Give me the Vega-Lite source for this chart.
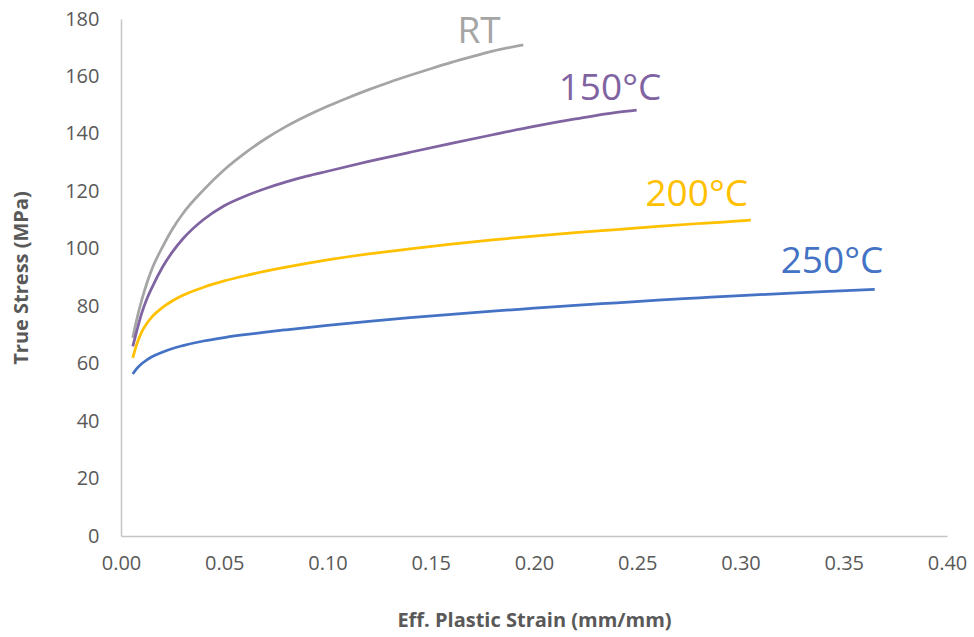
{
  "$schema": "https://vega.github.io/schema/vega-lite/v6.json",
  "width": 826,
  "height": 517,
  "autosize": {"type": "none"},
  "padding": {"left": 121, "top": 19, "right": 27, "bottom": 101},
  "background": "white",
  "config": {
    "view": {"stroke": null},
    "font": "Open Sans"
  },
  "datasets": {
    "curves": [
      {"series": "RT", "strain": 0.0057, "stress": 69},
      {"series": "RT", "strain": 0.0075, "stress": 75},
      {"series": "RT", "strain": 0.01, "stress": 82},
      {"series": "RT", "strain": 0.0125, "stress": 88},
      {"series": "RT", "strain": 0.015, "stress": 93},
      {"series": "RT", "strain": 0.02, "stress": 100.5},
      {"series": "RT", "strain": 0.025, "stress": 107},
      {"series": "RT", "strain": 0.03, "stress": 112.3},
      {"series": "RT", "strain": 0.04, "stress": 120.5},
      {"series": "RT", "strain": 0.05, "stress": 127.5},
      {"series": "RT", "strain": 0.06, "stress": 133.3},
      {"series": "RT", "strain": 0.07, "stress": 138.3},
      {"series": "RT", "strain": 0.08, "stress": 142.6},
      {"series": "RT", "strain": 0.09, "stress": 146.3},
      {"series": "RT", "strain": 0.1, "stress": 149.6},
      {"series": "RT", "strain": 0.11, "stress": 152.6},
      {"series": "RT", "strain": 0.12, "stress": 155.4},
      {"series": "RT", "strain": 0.13, "stress": 158},
      {"series": "RT", "strain": 0.14, "stress": 160.4},
      {"series": "RT", "strain": 0.15, "stress": 162.7},
      {"series": "RT", "strain": 0.16, "stress": 164.9},
      {"series": "RT", "strain": 0.17, "stress": 166.9},
      {"series": "RT", "strain": 0.18, "stress": 168.8},
      {"series": "RT", "strain": 0.1948, "stress": 171},
      {"series": "150°C", "strain": 0.0057, "stress": 66},
      {"series": "150°C", "strain": 0.0075, "stress": 71},
      {"series": "150°C", "strain": 0.01, "stress": 77.5},
      {"series": "150°C", "strain": 0.0125, "stress": 82.5},
      {"series": "150°C", "strain": 0.015, "stress": 86.5},
      {"series": "150°C", "strain": 0.02, "stress": 93.5},
      {"series": "150°C", "strain": 0.025, "stress": 99},
      {"series": "150°C", "strain": 0.03, "stress": 103.5},
      {"series": "150°C", "strain": 0.04, "stress": 110.2},
      {"series": "150°C", "strain": 0.05, "stress": 115},
      {"series": "150°C", "strain": 0.06, "stress": 118.3},
      {"series": "150°C", "strain": 0.07, "stress": 121},
      {"series": "150°C", "strain": 0.08, "stress": 123.3},
      {"series": "150°C", "strain": 0.09, "stress": 125.3},
      {"series": "150°C", "strain": 0.1, "stress": 127},
      {"series": "150°C", "strain": 0.12, "stress": 130.4},
      {"series": "150°C", "strain": 0.14, "stress": 133.6},
      {"series": "150°C", "strain": 0.16, "stress": 136.7},
      {"series": "150°C", "strain": 0.18, "stress": 139.7},
      {"series": "150°C", "strain": 0.2, "stress": 142.6},
      {"series": "150°C", "strain": 0.22, "stress": 145.2},
      {"series": "150°C", "strain": 0.24, "stress": 147.5},
      {"series": "150°C", "strain": 0.2497, "stress": 148.3},
      {"series": "200°C", "strain": 0.0057, "stress": 62},
      {"series": "200°C", "strain": 0.0075, "stress": 66.5},
      {"series": "200°C", "strain": 0.01, "stress": 71},
      {"series": "200°C", "strain": 0.0125, "stress": 74},
      {"series": "200°C", "strain": 0.015, "stress": 76.3},
      {"series": "200°C", "strain": 0.02, "stress": 79.5},
      {"series": "200°C", "strain": 0.025, "stress": 81.9},
      {"series": "200°C", "strain": 0.03, "stress": 83.8},
      {"series": "200°C", "strain": 0.04, "stress": 86.6},
      {"series": "200°C", "strain": 0.05, "stress": 88.8},
      {"series": "200°C", "strain": 0.06, "stress": 90.6},
      {"series": "200°C", "strain": 0.07, "stress": 92.2},
      {"series": "200°C", "strain": 0.08, "stress": 93.6},
      {"series": "200°C", "strain": 0.09, "stress": 94.9},
      {"series": "200°C", "strain": 0.1, "stress": 96.1},
      {"series": "200°C", "strain": 0.12, "stress": 98.2},
      {"series": "200°C", "strain": 0.14, "stress": 100},
      {"series": "200°C", "strain": 0.16, "stress": 101.6},
      {"series": "200°C", "strain": 0.18, "stress": 103.1},
      {"series": "200°C", "strain": 0.2, "stress": 104.4},
      {"series": "200°C", "strain": 0.22, "stress": 105.6},
      {"series": "200°C", "strain": 0.24, "stress": 106.7},
      {"series": "200°C", "strain": 0.26, "stress": 107.8},
      {"series": "200°C", "strain": 0.28, "stress": 108.8},
      {"series": "200°C", "strain": 0.3, "stress": 109.7},
      {"series": "200°C", "strain": 0.305, "stress": 110},
      {"series": "250°C", "strain": 0.0057, "stress": 56.4},
      {"series": "250°C", "strain": 0.0075, "stress": 58.2},
      {"series": "250°C", "strain": 0.01, "stress": 60},
      {"series": "250°C", "strain": 0.0125, "stress": 61.3},
      {"series": "250°C", "strain": 0.015, "stress": 62.4},
      {"series": "250°C", "strain": 0.02, "stress": 64},
      {"series": "250°C", "strain": 0.025, "stress": 65.3},
      {"series": "250°C", "strain": 0.03, "stress": 66.3},
      {"series": "250°C", "strain": 0.04, "stress": 67.9},
      {"series": "250°C", "strain": 0.05, "stress": 69.1},
      {"series": "250°C", "strain": 0.06, "stress": 70.1},
      {"series": "250°C", "strain": 0.07, "stress": 71},
      {"series": "250°C", "strain": 0.08, "stress": 71.8},
      {"series": "250°C", "strain": 0.1, "stress": 73.3},
      {"series": "250°C", "strain": 0.12, "stress": 74.7},
      {"series": "250°C", "strain": 0.14, "stress": 76},
      {"series": "250°C", "strain": 0.16, "stress": 77.2},
      {"series": "250°C", "strain": 0.18, "stress": 78.3},
      {"series": "250°C", "strain": 0.2, "stress": 79.3},
      {"series": "250°C", "strain": 0.22, "stress": 80.3},
      {"series": "250°C", "strain": 0.24, "stress": 81.2},
      {"series": "250°C", "strain": 0.26, "stress": 82.1},
      {"series": "250°C", "strain": 0.28, "stress": 82.9},
      {"series": "250°C", "strain": 0.3, "stress": 83.7},
      {"series": "250°C", "strain": 0.32, "stress": 84.4},
      {"series": "250°C", "strain": 0.34, "stress": 85.1},
      {"series": "250°C", "strain": 0.365, "stress": 85.9}
    ],
    "labels": [
      {"series": "RT", "strain": 0.1734, "stress": 171.6},
      {"series": "150°C", "strain": 0.2368, "stress": 151.8},
      {"series": "200°C", "strain": 0.2788, "stress": 115.0},
      {"series": "250°C", "strain": 0.3443, "stress": 91.5}
    ]
  },
  "layer": [
    {
      "data": {"name": "curves"},
      "mark": {"type": "line", "interpolate": "monotone", "strokeWidth": 2.75},
      "encoding": {
        "x": {
          "field": "strain", "type": "quantitative",
          "scale": {"domain": [0, 0.4], "nice": false},
          "axis": {
            "title": "Eff. Plastic Strain (mm/mm)",
            "values": [0, 0.05, 0.1, 0.15, 0.2, 0.25, 0.3, 0.35, 0.4],
            "format": ".2f",
            "grid": false, "ticks": false, "labelFlush": false, "labelOverlap": false,
            "domainColor": "#C4C4C4", "domainWidth": 1.5,
            "labelColor": "#595959", "labelFontSize": 20, "labelPadding": 17,
            "labelFont": "Open Sans",
            "titleColor": "#595959", "titleFontSize": 20, "titleFontWeight": "bold",
            "titleFont": "Open Sans", "titlePadding": 37
          }
        },
        "y": {
          "field": "stress", "type": "quantitative",
          "scale": {"domain": [0, 180], "nice": false},
          "axis": {
            "title": "True Stress (MPa)",
            "values": [0, 20, 40, 60, 80, 100, 120, 140, 160, 180],
            "grid": false, "ticks": false, "labelFlush": false, "labelOverlap": false,
            "domainColor": "#C4C4C4", "domainWidth": 1.5,
            "labelColor": "#595959", "labelFontSize": 20, "labelPadding": 22,
            "labelFont": "Open Sans",
            "titleColor": "#595959", "titleFontSize": 20, "titleFontWeight": "bold",
            "titleFont": "Open Sans", "titlePadding": 33
          }
        },
        "color": {
          "field": "series", "type": "nominal",
          "scale": {"domain": ["RT", "150°C", "200°C", "250°C"], "range": ["#A5A5A5", "#8064A2", "#FFC000", "#4472C4"]},
          "legend": null
        },
        "detail": {"field": "series"}
      }
    },
    {
      "data": {"name": "labels"},
      "mark": {"type": "text", "fontSize": 37, "font": "Open Sans", "align": "center", "baseline": "alphabetic"},
      "encoding": {
        "x": {"field": "strain", "type": "quantitative"},
        "y": {"field": "stress", "type": "quantitative"},
        "text": {"field": "series"},
        "color": {"field": "series", "type": "nominal", "legend": null}
      }
    }
  ]
}
